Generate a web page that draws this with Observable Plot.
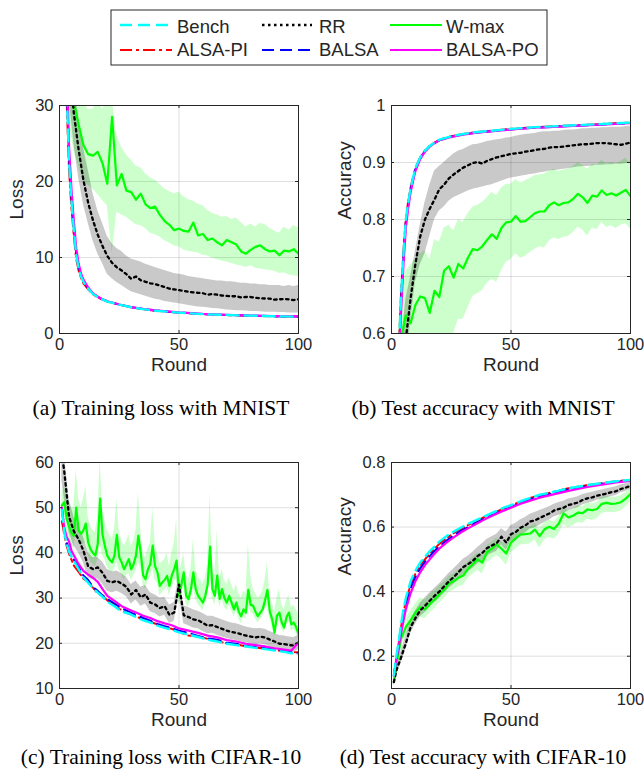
<!DOCTYPE html>
<html><head><meta charset="utf-8">
<script src="https://cdn.jsdelivr.net/npm/d3@7"></script>
<script src="https://cdn.jsdelivr.net/npm/@observablehq/plot@0.6"></script>
<style>
body{margin:0;background:#fff;}
#fig{position:relative;width:644px;height:773px;overflow:hidden;background:#fff;}
.panel{position:absolute;}
#overlay{position:absolute;left:0;top:0;pointer-events:none;}
</style></head><body><div id="fig"></div>
<script>
// ---------- series metadata ----------
const seriesNames  = ["Bench", "RR", "W-max", "ALSA-PI", "BALSA", "BALSA-PO"];
const seriesColors = ["#00FFFF", "#000000", "#00FF00", "#FF0000", "#0000FF", "#FF00FF"];
const seriesDash   = ["12,6", "2.5,3.5", null, "12,4,3,4", "12,6", null];
const seriesWidth  = [2.4, 2.3, 2.2, 2, 2, 2.2];
const captions = ["(a) Training loss with MNIST", "(b) Test accuracy with MNIST",
                  "(c) Training loss with CIFAR-10", "(d) Test accuracy with CIFAR-10"];
const xTicks = [0, 50, 100];
const yTicksA = [0, 10, 20, 30];
const yTicksB = [0.6, 0.7, 0.8, 0.9, 1];
const yTicksC = [10, 20, 30, 40, 50, 60];
const yTicksD = [0.2, 0.4, 0.6, 0.8];

// ---------- rounds ----------
const roundsSmoothAB = [1,2,3,4,5,6,7,8,9,10,12,14,16,18,20,25,30,35,40,50,60,70,80,90,100];
const roundsSmoothCD = [1,2,3,4,5,6,8,10,12,14,16,18,20,23,26,29,32,35,38,41,44,47,50,54,58,62,66,70,74,78,82,86,90,94,97,100];
const roundsEven = [1,2,4,6,8,10,12,14,16,18,20,22,24,26,28,30,32,34,36,38,40,42,44,46,48,50,52,54,56,58,60,62,64,66,68,70,72,74,76,78,80,82,84,86,88,90,92,94,96,98,100];
const roundsAll = [1,2,3,4,5,6,7,8,9,10,11,12,13,14,15,16,17,18,19,20,21,22,23,24,25,26,27,28,29,30,31,32,33,34,35,36,37,38,39,40,41,42,43,44,45,46,47,48,49,50,51,52,53,54,55,56,57,58,59,60,61,62,63,64,65,66,67,68,69,70,71,72,73,74,75,76,77,78,79,80,81,82,83,84,85,86,87,88,89,90,91,92,93,94,95,96,97,98,99,100];

// ---------- (a) training loss, MNIST ----------
const aBench   = [60,45,32,22.5,17.5,13.5,10.3,8.6,7.5,6.8,5.9,5.2,4.8,4.5,4.2,3.8,3.45,3.2,3.0,2.75,2.55,2.43,2.35,2.27,2.2];
const aAlsaPI  = [58,43,30.5,21.5,16.5,12.8,9.8,8.3,7.3,6.6,5.8,5.15,4.75,4.45,4.2,3.8,3.45,3.2,3.0,2.74,2.55,2.42,2.33,2.26,2.2];
const aBalsa   = [61,46,33,23.3,18,13.8,10.6,8.8,7.7,6.9,5.95,5.25,4.85,4.5,4.25,3.8,3.47,3.22,3.03,2.76,2.57,2.44,2.35,2.28,2.22];
const aBalsaPO = [63,48,35,24.5,19,14.8,11.2,9.2,7.9,7.1,6.05,5.3,4.85,4.5,4.25,3.82,3.48,3.24,3.05,2.78,2.58,2.45,2.37,2.3,2.25];
const aRR      = [60,50,36,29,24.2,20.2,17.2,14.9,13.0,11.5,10.2,9.3,8.7,8.3,7.8,7.2,7.5,7.0,6.8,6.6,6.5,6.3,6.1,5.9,5.8,5.7,5.6,5.5,5.4,5.35,5.3,5.1,5.2,5.1,5.0,4.95,4.9,4.9,4.75,4.8,4.8,4.7,4.65,4.6,4.6,4.45,4.5,4.55,4.5,4.4,4.5];
const aRRHi    = [65,58,42,33,28.5,24.5,21.5,18.5,16.2,14.5,12.8,11.8,11.2,10.8,10.2,9.8,9.6,9.4,9.1,8.9,8.7,8.5,8.3,8.1,7.9,7.8,7.7,7.5,7.4,7.3,7.2,7.1,7.0,6.9,6.9,6.8,6.8,6.7,6.6,6.6,6.5,6.5,6.4,6.4,6.3,6.3,6.3,6.2,6.3,6.2,6.3];
const aRRLo    = [55,44,31,25,20.5,17,14.5,12.2,10.5,9.2,7.8,7.2,6.7,6.3,5.9,5.5,5.3,5.1,4.9,4.7,4.5,4.4,4.2,4.1,4.0,3.9,3.8,3.7,3.6,3.5,3.45,3.4,3.3,3.25,3.2,3.1,3.05,3.0,3.0,2.95,2.9,2.9,2.85,2.8,2.8,2.8,2.75,2.75,2.7,2.7,2.7];
const aWmax    = [45,40,34,30.5,27.5,24.8,23.6,23.4,23.9,22.4,19.7,28.5,19.5,21.0,18.8,18.6,17.6,18.4,17.0,16.5,16.7,15.6,14.8,14.3,13.6,13.8,13.5,13.4,14.6,12.9,13.1,12.3,12.5,12.0,11.6,12.3,12.0,11.7,10.8,10.5,11.0,11.4,11.6,11.1,10.8,10.9,10.3,10.9,10.8,11.1,10.5];
const aWmaxHi  = [50,48,45,40,33,30.5,29.5,29.5,30.5,29.5,30.5,31,26,24.5,23.5,22.8,22.0,21.8,21.0,20.5,20.2,19.6,19.0,18.7,18.4,18.6,18.0,17.6,17.4,17.0,16.8,16.2,15.8,15.6,15.3,15.4,15.0,15.2,14.6,14.0,14.4,14.0,14.5,14.3,13.8,13.5,13.2,14.0,13.6,14.2,13.9];
const aWmaxLo  = [38,33,28,24,22,20,19.5,19,18.3,17.5,16.8,10.5,16.0,15.6,15.3,14.8,14.3,14.2,13.8,13.2,13.0,12.7,12.2,11.9,11.5,11.4,11.0,10.8,10.7,10.6,10.3,10.2,9.9,9.7,9.5,9.4,9.2,9.0,8.9,8.7,8.9,8.6,8.5,8.4,8.3,8.2,7.9,8.0,7.7,7.6,7.5];

// ---------- (b) test accuracy, MNIST ----------
const bBench   = [0.2,0.4,0.56,0.665,0.74,0.8,0.83,0.855,0.873,0.89,0.909,0.921,0.929,0.935,0.94,0.946,0.95,0.953,0.955,0.959,0.962,0.964,0.966,0.968,0.97];
const bAlsaPI  = [0.21,0.41,0.565,0.67,0.745,0.802,0.832,0.856,0.874,0.89,0.909,0.921,0.929,0.935,0.94,0.946,0.95,0.953,0.955,0.959,0.962,0.964,0.966,0.968,0.97];
const bBalsa   = [0.19,0.39,0.55,0.655,0.732,0.795,0.826,0.852,0.87,0.888,0.908,0.92,0.928,0.934,0.939,0.945,0.949,0.952,0.954,0.958,0.961,0.963,0.965,0.967,0.969];
const bBalsaPO = [0.18,0.37,0.53,0.64,0.72,0.785,0.82,0.848,0.867,0.885,0.906,0.919,0.928,0.934,0.939,0.945,0.949,0.952,0.954,0.958,0.961,0.963,0.965,0.967,0.969];
const bRR      = [0.35,0.42,0.52,0.59,0.662,0.722,0.77,0.8,0.819,0.835,0.853,0.861,0.872,0.879,0.885,0.891,0.895,0.899,0.901,0.898,0.903,0.906,0.909,0.911,0.913,0.915,0.916,0.917,0.919,0.92,0.922,0.923,0.924,0.926,0.927,0.927,0.928,0.929,0.93,0.931,0.932,0.932,0.933,0.934,0.934,0.934,0.933,0.932,0.931,0.933,0.935];
const bRRHi    = [0.4,0.48,0.58,0.66,0.7,0.745,0.79,0.83,0.86,0.885,0.893,0.9,0.908,0.915,0.92,0.923,0.927,0.931,0.932,0.934,0.937,0.938,0.94,0.941,0.943,0.944,0.946,0.948,0.949,0.95,0.951,0.953,0.954,0.954,0.955,0.955,0.956,0.957,0.957,0.958,0.959,0.959,0.96,0.96,0.961,0.961,0.962,0.962,0.962,0.963,0.964];
const bRRLo    = [0.3,0.36,0.46,0.54,0.62,0.69,0.72,0.74,0.77,0.8,0.815,0.822,0.832,0.838,0.842,0.846,0.85,0.853,0.855,0.857,0.859,0.861,0.864,0.867,0.87,0.873,0.874,0.876,0.877,0.879,0.88,0.882,0.883,0.885,0.886,0.887,0.888,0.889,0.891,0.892,0.893,0.893,0.894,0.895,0.895,0.896,0.896,0.897,0.897,0.898,0.899];
const bWmax    = [0.3,0.45,0.59,0.632,0.618,0.65,0.665,0.662,0.636,0.675,0.664,0.71,0.718,0.698,0.722,0.714,0.733,0.748,0.746,0.753,0.764,0.774,0.766,0.785,0.795,0.796,0.806,0.796,0.797,0.804,0.811,0.814,0.814,0.825,0.83,0.825,0.829,0.83,0.836,0.845,0.839,0.829,0.842,0.84,0.851,0.843,0.846,0.842,0.847,0.852,0.841];
const bWmaxHi  = [0.4,0.55,0.68,0.71,0.72,0.73,0.74,0.745,0.73,0.765,0.76,0.785,0.79,0.78,0.8,0.795,0.81,0.822,0.825,0.83,0.838,0.848,0.842,0.855,0.862,0.862,0.87,0.864,0.868,0.872,0.877,0.878,0.88,0.885,0.888,0.884,0.887,0.888,0.893,0.9,0.895,0.888,0.897,0.895,0.904,0.897,0.9,0.897,0.902,0.908,0.898];
const bWmaxLo  = [0.2,0.3,0.45,0.5,0.5,0.52,0.54,0.55,0.53,0.56,0.56,0.59,0.6,0.6,0.625,0.625,0.645,0.665,0.67,0.675,0.688,0.695,0.69,0.71,0.725,0.73,0.74,0.732,0.735,0.742,0.748,0.752,0.75,0.762,0.768,0.765,0.769,0.77,0.777,0.787,0.781,0.771,0.785,0.782,0.795,0.786,0.789,0.784,0.79,0.793,0.783];

// ---------- (c) training loss, CIFAR-10 ----------
const cBench   = [49.5,44.5,42,40.3,39.2,38.2,36.4,34.6,33.4,32.2,31.2,30.3,29.2,28.2,27.0,26.6,25.8,25.1,24.6,23.9,23.4,23.0,22.4,21.9,21.4,20.8,20.4,19.9,19.6,19.3,19.0,18.7,18.4,18.1,17.8,17.6];
const cAlsaPI  = [47,44,41.5,39.8,38.5,37.2,35.8,34.3,33.5,32.3,31.0,30.5,29.5,28.4,27.3,26.5,26.0,25.2,24.7,24.2,23.5,23.2,22.5,21.7,21.5,21.0,20.6,19.9,19.8,19.3,19.1,18.8,18.5,18.2,18.0,18.0];
const cBalsa   = [50,45,42.5,40.5,39.0,38.5,36.9,35.0,34.0,32.5,31.6,30.6,29.8,28.8,27.8,27.0,26.3,25.6,25.0,24.3,23.8,23.4,22.8,22.3,21.6,21.1,20.8,20.1,19.9,19.4,19.2,18.9,18.6,18.3,18.0,17.8];
const cBalsaPO = [50,45.5,43.5,42.5,40.5,39.5,37.5,36.0,35.2,34.5,33.6,32.0,30.5,29.4,28.2,27.5,26.8,26.1,25.6,24.9,24.4,24.0,23.3,22.8,22.3,21.7,21.3,20.7,20.4,19.9,19.6,19.3,18.9,18.6,18.4,20.2];
const cRR      = [62,58,48,44.8,43,40.5,37,36.4,36.8,35.6,33.8,33.5,33.8,33.2,32.5,30.8,31.8,30.2,30.8,29,28.6,27.8,28.2,26.3,26.8,33,26.2,25.8,25.3,25.1,24.5,23.9,24.0,23.6,23.2,22.8,22.5,22.3,22.0,21.7,21.5,21.3,21.5,21.3,20.8,20.4,19.9,19.8,19.6,19.5,20.2];
const cRRHi    = [66,62,52,48,46,43.5,40,39,39,38,36.3,35.8,36,35.4,34.6,33,33.8,32.4,32.8,31.2,30.7,30,30.2,28.5,29,35,28.3,27.9,27.4,27.1,26.6,26,26,25.6,25.2,24.8,24.5,24.3,24,23.6,23.4,23.2,23.3,23.1,22.6,22.2,21.7,21.6,21.4,21.3,21.8];
const cRRLo    = [56,52,44.5,41.5,40,37.8,34.5,34,34.3,33.2,31.5,31.2,31.5,31,30.3,28.7,29.6,28.2,28.7,27,26.6,25.8,26.2,24.4,24.9,30.5,24.3,23.9,23.4,23.2,22.6,22.1,22.2,21.8,21.4,21.1,20.8,20.6,20.3,20.1,19.9,19.7,19.9,19.7,19.2,18.9,18.4,18.3,18.1,18.0,18.6];
const cWmax    = [50.5,51.2,47.5,45.8,44.5,43.8,50.0,45.0,44.2,45.0,
                  46.5,42.3,40.8,40.0,39.4,42.0,52.0,44.0,41.5,39.4,
                  38.5,37.9,39.4,44.0,39.0,37.9,36.4,37.5,38.6,36.4,
                  37.5,39.4,43.8,40.0,35.0,34.2,36.4,37.5,41.6,37.0,
                  35.7,32.7,33.5,34.0,34.9,32.7,35.0,36.4,38.3,30.5,
                  33.0,35.7,30.5,29.8,32.0,35.7,32.0,30.5,29.8,29.0,
                  30.5,33.0,41.4,32.0,30.5,35.0,29.8,32.0,30.0,29.0,
                  30.5,29.0,27.5,29.0,27.0,26.0,27.5,26.8,31.8,28.5,
                  28.3,27.0,26.0,26.8,27.5,29.5,31.8,27.0,25.3,22.4,
                  26.1,26.8,24.6,23.5,25.8,26.8,24.2,24.6,23.6,22.1];
const cWmaxHi  = [53,55,53,51,50,50,58.5,52,50,52,
                  54.8,48,46,45,44.5,48,61,50,47,45,
                  44,43,45,52,44.5,43,41.5,42.5,44,41.5,
                  42.5,45,53.5,45,40,39,41,42,50,42,
                  40,37.5,38,38.5,40,37,40,42,47.5,35,
                  37.5,40,35,34,36.5,43,36.5,34.5,34,33,
                  34.5,37.5,53.5,36.5,35,45,34,36.5,34,33,
                  34.5,33,31.5,33,31,30,31.5,31,42,35,
                  32,31,30,30.5,31.5,34,38,30.5,29,27,
                  30,32,28.5,27.5,29.5,30.5,28,28.5,27.5,26.5];
const cWmaxLo  = [48,48,44.5,43,41.5,41,45,42,41.5,42,
                  42,39.5,38,37.5,37,38.5,42,39.5,38.5,36.8,
                  36,35.5,36.5,38,36,35.3,34,35,35.5,34,
                  35,36,38,36.5,32.8,32,33.8,34.5,36.5,34,
                  33.2,30.5,31.2,31.8,32.4,30.5,32.4,33.5,34.5,28.6,
                  30.8,32.8,28.6,28,29.8,32,29.8,28.5,27.9,27.2,
                  28.5,30.5,35,29.8,28.5,31.5,27.9,29.8,28,27.2,
                  28.5,27.2,25.8,27.2,25.4,24.4,25.8,25.2,28.5,26.8,
                  26.5,25.4,24.5,25.2,25.8,27.5,28.5,25.3,23.8,21.2,
                  24.4,25,23.1,22.2,24.1,24.8,22.7,23.1,22.2,20.8];

// ---------- (d) test accuracy, CIFAR-10 ----------
const dBench   = [0.14,0.2,0.245,0.3,0.345,0.38,0.432,0.465,0.49,0.508,0.525,0.54,0.555,0.572,0.586,0.598,0.61,0.62,0.63,0.64,0.65,0.66,0.668,0.68,0.69,0.7,0.706,0.713,0.72,0.725,0.73,0.734,0.738,0.742,0.744,0.746];
const dAlsaPI  = [0.14,0.195,0.24,0.29,0.335,0.37,0.422,0.456,0.482,0.5,0.518,0.533,0.548,0.566,0.581,0.594,0.606,0.617,0.628,0.638,0.648,0.658,0.667,0.679,0.69,0.699,0.706,0.713,0.72,0.725,0.73,0.734,0.738,0.742,0.744,0.745];
const dBalsa   = [0.14,0.19,0.23,0.28,0.32,0.355,0.41,0.445,0.472,0.492,0.51,0.526,0.54,0.558,0.574,0.588,0.6,0.612,0.623,0.633,0.643,0.653,0.662,0.675,0.686,0.695,0.702,0.71,0.717,0.722,0.727,0.732,0.736,0.74,0.742,0.744];
const dBalsaPO = [0.14,0.19,0.23,0.27,0.31,0.345,0.395,0.432,0.46,0.482,0.5,0.517,0.533,0.552,0.568,0.583,0.596,0.608,0.62,0.631,0.641,0.651,0.66,0.672,0.682,0.691,0.698,0.705,0.712,0.718,0.724,0.729,0.734,0.738,0.741,0.743];
const dRR      = [0.12,0.155,0.196,0.24,0.29,0.318,0.342,0.356,0.372,0.387,0.4,0.416,0.432,0.445,0.46,0.476,0.485,0.495,0.51,0.52,0.535,0.543,0.55,0.57,0.552,0.578,0.585,0.598,0.605,0.617,0.621,0.628,0.635,0.642,0.651,0.656,0.66,0.668,0.672,0.676,0.684,0.689,0.692,0.697,0.7,0.704,0.708,0.711,0.718,0.722,0.728];
const dRRHi    = [0.135,0.17,0.215,0.262,0.31,0.34,0.364,0.38,0.396,0.41,0.424,0.44,0.456,0.47,0.485,0.5,0.51,0.522,0.537,0.548,0.562,0.57,0.578,0.595,0.585,0.605,0.612,0.623,0.63,0.64,0.645,0.651,0.657,0.663,0.671,0.676,0.68,0.687,0.69,0.694,0.701,0.705,0.708,0.712,0.715,0.719,0.722,0.725,0.731,0.734,0.738];
const dRRLo    = [0.108,0.14,0.178,0.22,0.27,0.298,0.322,0.335,0.35,0.366,0.378,0.394,0.41,0.422,0.437,0.454,0.462,0.472,0.486,0.496,0.511,0.518,0.525,0.545,0.528,0.555,0.562,0.575,0.582,0.594,0.598,0.606,0.614,0.622,0.631,0.637,0.641,0.65,0.655,0.66,0.668,0.674,0.677,0.683,0.686,0.69,0.695,0.698,0.706,0.71,0.717];
const dWmax    = [0.12,0.17,0.255,0.29,0.312,0.335,0.352,0.345,0.362,0.375,0.392,0.405,0.425,0.432,0.443,0.45,0.47,0.485,0.5,0.49,0.522,0.533,0.546,0.533,0.518,0.552,0.565,0.577,0.578,0.58,0.592,0.572,0.593,0.601,0.594,0.611,0.642,0.63,0.635,0.645,0.643,0.655,0.652,0.656,0.672,0.675,0.672,0.673,0.677,0.688,0.702];
const dWmaxHi  = [0.13,0.19,0.28,0.315,0.34,0.362,0.38,0.375,0.39,0.402,0.418,0.43,0.448,0.455,0.467,0.474,0.492,0.506,0.52,0.512,0.542,0.553,0.566,0.555,0.545,0.574,0.586,0.597,0.598,0.6,0.612,0.595,0.614,0.622,0.616,0.632,0.662,0.65,0.655,0.665,0.663,0.675,0.672,0.676,0.692,0.694,0.692,0.693,0.697,0.707,0.72];
const dWmaxLo  = [0.11,0.15,0.23,0.262,0.285,0.305,0.322,0.316,0.334,0.347,0.364,0.377,0.397,0.404,0.414,0.42,0.44,0.455,0.466,0.455,0.49,0.5,0.512,0.5,0.482,0.52,0.532,0.545,0.545,0.548,0.56,0.535,0.56,0.568,0.562,0.578,0.608,0.598,0.605,0.614,0.612,0.624,0.62,0.626,0.642,0.646,0.644,0.646,0.65,0.662,0.678];

// ---------- helpers ----------
const lineRows = (rs, vs) => rs.map((r, i) => ({r, v: vs[i]}));
const bandRows = (rs, lo, hi) => rs.map((r, i) => ({r, lo: lo[i], hi: hi[i]}));
const FONT = "'Liberation Sans', Arial, Helvetica, sans-serif";
const SERIF = "'Liberation Serif', 'Times New Roman', Times, serif";
const TICK_IN = 3;

function lineMark(rows, k) {
  const o = {x: "r", y: "v", stroke: seriesColors[k], strokeWidth: seriesWidth[k], clip: true};
  if (seriesDash[k]) o.strokeDasharray = seriesDash[k];
  return Plot.line(rows, o);
}

function makePanel(cfg) {
  const fw = 322 - cfg.mL - cfg.mR, fh = 300 - cfg.mT - cfg.mB;
  const tickStyle = {stroke: "#262626", strokeWidth: 1};
  const marks = [
    Plot.gridX(xTicks, {stroke: "#262626", strokeOpacity: 0.15}),
    Plot.gridY(cfg.yTicks, {stroke: "#262626", strokeOpacity: 0.15}),
    Plot.areaY(cfg.wBand, {x: "r", y1: "lo", y2: "hi", fill: "#00FF00", fillOpacity: 0.2, clip: true}),
    Plot.areaY(cfg.rBand, {x: "r", y1: "lo", y2: "hi", fill: "#000000", fillOpacity: 0.21, clip: true}),
    lineMark(cfg.wmax, 2),
    lineMark(cfg.rr, 1),
    lineMark(cfg.alsa, 3),
    lineMark(cfg.balsa, 4),
    lineMark(cfg.po, 5),
    lineMark(cfg.bench, 0),
    // inward tick marks on all four sides
    Plot.tickX(xTicks, {x: d => d, insetTop: fh - TICK_IN, ...tickStyle}),
    Plot.tickX(xTicks, {x: d => d, insetBottom: fh - TICK_IN, ...tickStyle}),
    Plot.tickY(cfg.yTicks, {y: d => d, insetRight: fw - TICK_IN, ...tickStyle}),
    Plot.tickY(cfg.yTicks, {y: d => d, insetLeft: fw - TICK_IN, ...tickStyle}),
    Plot.frame({stroke: "#262626", strokeWidth: 1}),
    Plot.axisX(xTicks, {tickSize: 0, tickPadding: 5, label: null, fontSize: 16.5}),
    Plot.axisY(cfg.yTicks, {tickSize: 0, tickPadding: 6, label: null, fontSize: 16.5, tickFormat: d => String(d)}),
    Plot.text(["Round"], {frameAnchor: "bottom", dy: 37.5, fontSize: 19}),
    Plot.text([cfg.yLabel], {frameAnchor: "left", dx: cfg.yLabelDx, rotate: -90, fontSize: 19})
  ];
  const svg = Plot.plot({
    width: 322, height: 300,
    marginLeft: cfg.mL, marginRight: cfg.mR, marginTop: cfg.mT, marginBottom: cfg.mB,
    x: {domain: [0, 100]},
    y: {domain: cfg.yDomain},
    style: {fontFamily: FONT, fontSize: "16.5px", color: "#262626", background: "transparent", overflow: "visible"},
    marks
  });
  svg.classList.add("panel");
  svg.style.left = cfg.left + "px";
  svg.style.top = cfg.top + "px";
  svg.style.position = "absolute";
  return svg;
}

const fig = document.getElementById("fig");

const panels = [
  {left: 0, top: 90, mL: 59, mR: 24, mT: 15, mB: 57, yDomain: [0, 30], yTicks: yTicksA, yLabel: "Loss", yLabelDx: -43,
   bench: lineRows(roundsSmoothAB, aBench), alsa: lineRows(roundsSmoothAB, aAlsaPI), balsa: lineRows(roundsSmoothAB, aBalsa), po: lineRows(roundsSmoothAB, aBalsaPO),
   rr: lineRows(roundsEven, aRR), rBand: bandRows(roundsEven, aRRLo, aRRHi),
   wmax: lineRows(roundsEven, aWmax), wBand: bandRows(roundsEven, aWmaxLo, aWmaxHi)},
  {left: 322, top: 90, mL: 69, mR: 14, mT: 15, mB: 57, yDomain: [0.6, 1], yTicks: yTicksB, yLabel: "Accuracy", yLabelDx: -46.5,
   bench: lineRows(roundsSmoothAB, bBench), alsa: lineRows(roundsSmoothAB, bAlsaPI), balsa: lineRows(roundsSmoothAB, bBalsa), po: lineRows(roundsSmoothAB, bBalsaPO),
   rr: lineRows(roundsEven, bRR), rBand: bandRows(roundsEven, bRRLo, bRRHi),
   wmax: lineRows(roundsEven, bWmax), wBand: bandRows(roundsEven, bWmaxLo, bWmaxHi)},
  {left: 0, top: 447, mL: 59, mR: 24, mT: 15, mB: 59, yDomain: [10, 60], yTicks: yTicksC, yLabel: "Loss", yLabelDx: -43,
   bench: lineRows(roundsSmoothCD, cBench), alsa: lineRows(roundsSmoothCD, cAlsaPI), balsa: lineRows(roundsSmoothCD, cBalsa), po: lineRows(roundsSmoothCD, cBalsaPO),
   rr: lineRows(roundsEven, cRR), rBand: bandRows(roundsEven, cRRLo, cRRHi),
   wmax: lineRows(roundsAll, cWmax), wBand: bandRows(roundsAll, cWmaxLo, cWmaxHi)},
  {left: 322, top: 447, mL: 69, mR: 14, mT: 15, mB: 59, yDomain: [0.1, 0.8], yTicks: yTicksD, yLabel: "Accuracy", yLabelDx: -46.5,
   bench: lineRows(roundsSmoothCD, dBench), alsa: lineRows(roundsSmoothCD, dAlsaPI), balsa: lineRows(roundsSmoothCD, dBalsa), po: lineRows(roundsSmoothCD, dBalsaPO),
   rr: lineRows(roundsEven, dRR), rBand: bandRows(roundsEven, dRRLo, dRRHi),
   wmax: lineRows(roundsEven, dWmax), wBand: bandRows(roundsEven, dWmaxLo, dWmaxHi)}
];
panels.forEach(p => fig.appendChild(makePanel(p)));

// ---------- legend + captions overlay ----------
const ov = d3.select(fig).append("svg").attr("id", "overlay").attr("width", 644).attr("height", 773);
ov.append("rect").attr("x", 111).attr("y", 10).attr("width", 436).attr("height", 55)
  .attr("fill", "#fff").attr("stroke", "#262626").attr("stroke-width", 1);
const legCols = [[120, 172, 177], [262, 312, 319], [390, 442, 446]];
const legRows = [[25, 32.6], [50, 56.4]];
seriesNames.forEach((name, i) => {
  const col = legCols[i % 3], row = legRows[Math.floor(i / 3)];
  const ln = ov.append("line").attr("x1", col[0]).attr("x2", col[1]).attr("y1", row[0]).attr("y2", row[0])
    .attr("stroke", seriesColors[i]).attr("stroke-width", seriesWidth[i]);
  if (seriesDash[i]) ln.attr("stroke-dasharray", seriesDash[i]);
  ov.append("text").attr("x", col[2]).attr("y", row[1]).text(name)
    .attr("font-family", FONT).attr("font-size", 18.5).attr("fill", "#262626");
});
const capPos = [[161, 414.7], [483, 414.7], [161, 764], [483, 764]];
captions.forEach((c, i) => {
  ov.append("text").attr("x", capPos[i][0]).attr("y", capPos[i][1]).attr("text-anchor", "middle")
    .attr("font-family", SERIF).attr("font-size", 21.5).attr("fill", "#000").text(c);
});
</script></body></html>
